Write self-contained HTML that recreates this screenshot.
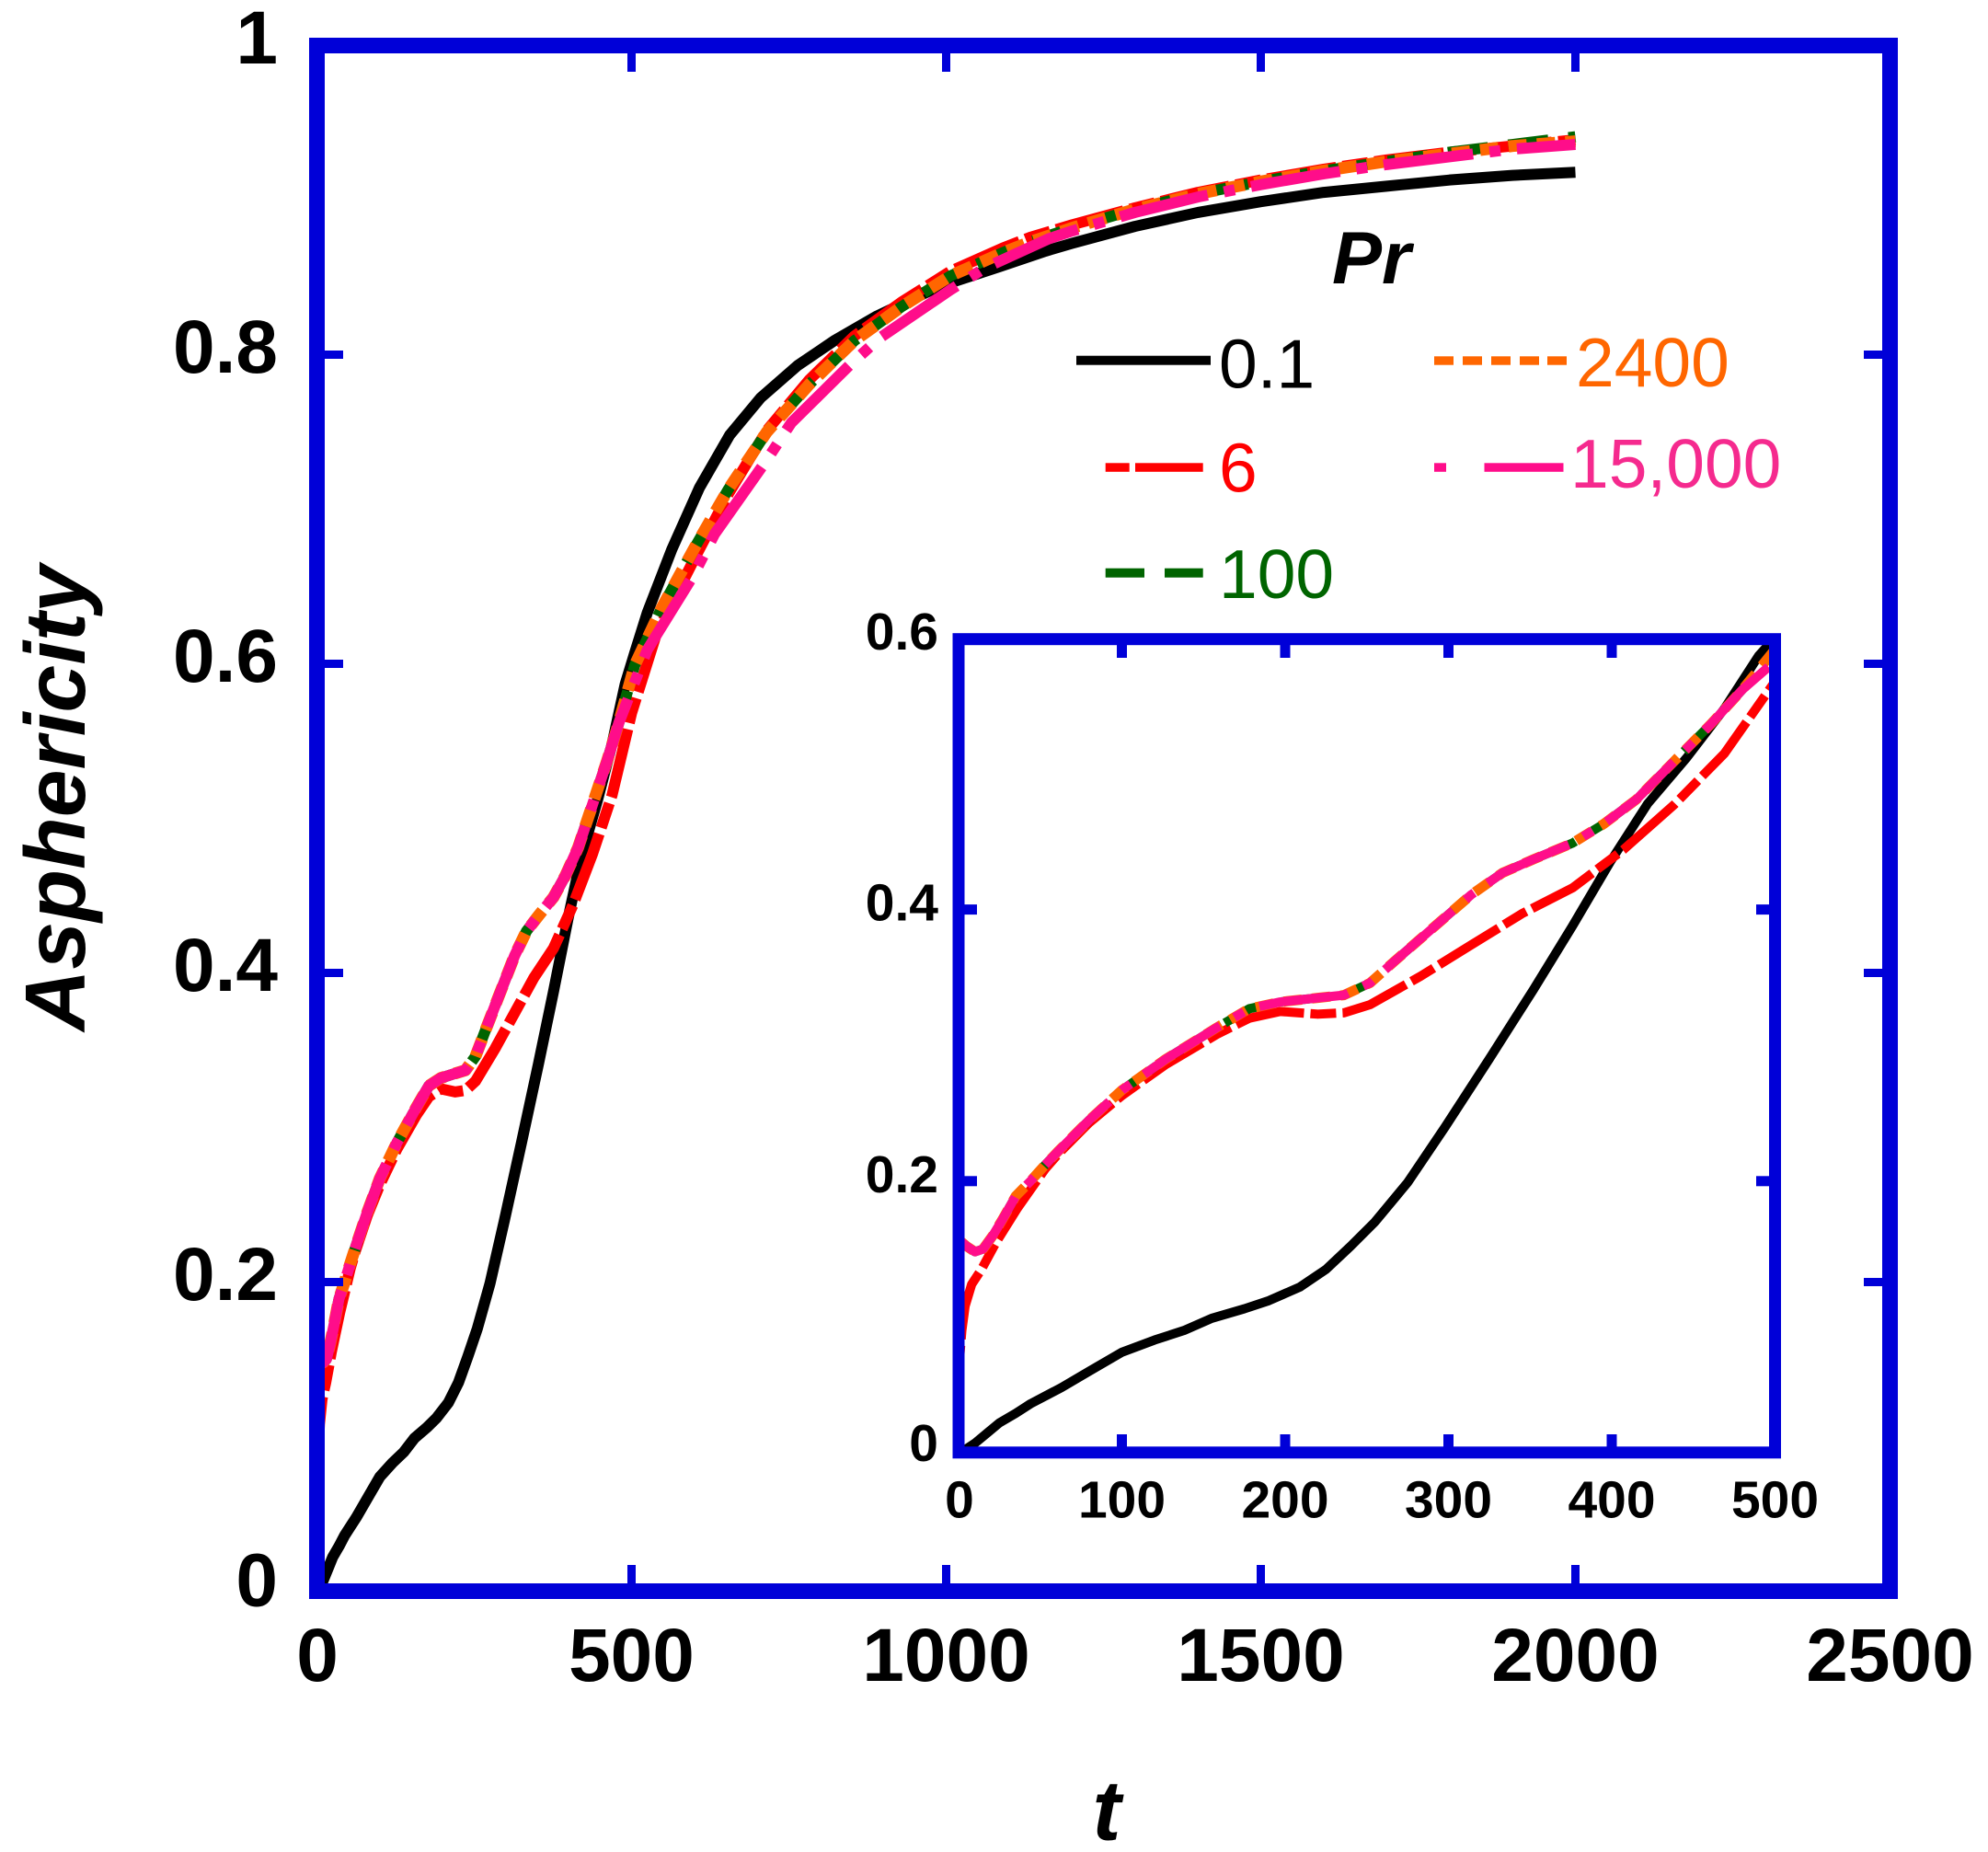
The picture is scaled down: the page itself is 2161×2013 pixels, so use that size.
<!DOCTYPE html>
<html><head><meta charset="utf-8"><style>
html,body{margin:0;padding:0;background:#fff;}
svg{display:block;}
text{font-family:"Liberation Sans",Arial,sans-serif;}
</style></head><body>
<svg width="2161" height="2013" viewBox="0 0 2161 2013" xmlns="http://www.w3.org/2000/svg">
<rect width="2161" height="2013" fill="#fff"/>
<defs>
<clipPath id="cm"><rect x="353" y="58" width="1693" height="1663"/></clipPath>
<clipPath id="ci"><rect x="1048" y="701" width="875" height="872"/></clipPath>
</defs>

<!-- MAIN CURVES -->
<g clip-path="url(#cm)">
<g transform="translate(344.5,1729.5) scale(0.684,-1.68)" fill="none" stroke-linejoin="round">
<polyline vector-effect="non-scaling-stroke" stroke="#000" stroke-width="12" points="0,0 5,3 10,7 18,15 25,22 35,29 44,36 63,48 80,60 100,74 120,83 138,90 155,99 175,106 190,112 209,122 225,135 240,152 255,170 275,199 298,240 325,290 352,341 376,388 399,435 422,478 446,512 469,548 490,587 505,607 525,633 564,674 608,714 656,748 705,772 764,793 822,809 890,825 988,844 1085,857 1158,867 1200,872 1300,883 1400,892 1500,899 1600,905 1700,909 1800,913 1900,916 2000,918"/>
<polyline vector-effect="non-scaling-stroke" stroke="#ff0000" stroke-width="12" stroke-dasharray="28 7 76 7" points="0,60 2,90 4,108 8,124 14,135 23,155 36,180 53,209 61,220 80,243 100,263 127,286 158,308 178,320 197,325 220,323 236,324 252,330 283,351 314,374 345,397 376,416 407,444 438,477 469,515 500,568 540,620 600,668 654,710 715,751 783,784 854,812 929,834 1007,854 1090,869 1134,876 1200,884 1300,895 1400,905 1500,913 1600,920 1700,926 1800,931 1900,935 2000,939"/>
<polyline vector-effect="non-scaling-stroke" stroke="#006400" stroke-width="12" stroke-dasharray="44 22" points="0,157 5,152 10,148 15,150 21,160 27,172 35,189 44,200 53,212 61,222 80,245 100,267 127,290 158,313 178,327 197,332 220,335 236,337 252,346 267,362 290,386 314,411 333,427 352,437 376,449 395,463 415,481 438,509 461,537 480,562 505,599 549,637 600,675 654,713 715,750 783,781 854,809 929,831 1007,851 1090,866 1134,873 1200,882 1300,894 1400,904 1500,912 1600,919 1700,925 1800,931 1900,936 2000,941"/>
<polyline vector-effect="non-scaling-stroke" stroke="#ff6600" stroke-width="13" stroke-dasharray="20 11" points="0,157 5,152 10,148 15,150 21,160 27,172 35,189 44,200 53,212 61,222 80,245 100,267 127,290 158,313 178,327 197,332 220,335 236,337 252,346 267,362 290,386 314,411 333,427 352,437 376,449 395,463 415,481 438,509 461,537 480,562 505,599 549,637 600,675 654,713 715,750 783,781 854,809 929,831 1007,851 1090,866 1134,873 1200,882 1300,894 1400,904 1500,912 1600,919 1700,925 1800,930 1900,935 2000,938"/>
<polyline vector-effect="non-scaling-stroke" stroke="#ff0d8a" stroke-width="12" stroke-dasharray="98 18 12 18" points="0,157 5,152 10,148 15,150 21,160 27,172 35,189 44,200 53,212 61,222 80,245 100,267 127,290 158,313 178,327 197,332 220,335 236,337 252,346 267,362 290,386 314,411 333,427 352,437 376,449 395,463 415,481 438,509 461,537 480,562 525,609 598,657 632,684 715,732 754,756 846,793 895,811 1007,842 1061,856 1163,875 1200,880 1300,892 1400,902 1500,910 1600,917 1700,923 1800,928 1900,933 2000,936"/>
</g>
</g>

<!-- MAIN FRAME -->
<rect x="344.5" y="49.5" width="1710" height="1680" fill="none" stroke="#0000d8" stroke-width="17"/>
<g stroke="#0000d8" stroke-width="9">
<line x1="352" y1="1393.5" x2="373" y2="1393.5"/><line x1="352" y1="1057.5" x2="373" y2="1057.5"/><line x1="352" y1="721.5" x2="373" y2="721.5"/><line x1="352" y1="385.5" x2="373" y2="385.5"/>
<line x1="2047" y1="1393.5" x2="2026" y2="1393.5"/><line x1="2047" y1="1057.5" x2="2026" y2="1057.5"/><line x1="2047" y1="721.5" x2="2026" y2="721.5"/><line x1="2047" y1="385.5" x2="2026" y2="385.5"/>
<line x1="686.5" y1="1722" x2="686.5" y2="1701"/><line x1="1028.5" y1="1722" x2="1028.5" y2="1701"/><line x1="1370.5" y1="1722" x2="1370.5" y2="1701"/><line x1="1712.5" y1="1722" x2="1712.5" y2="1701"/>
<line x1="686.5" y1="57" x2="686.5" y2="78"/><line x1="1028.5" y1="57" x2="1028.5" y2="78"/><line x1="1370.5" y1="57" x2="1370.5" y2="78"/><line x1="1712.5" y1="57" x2="1712.5" y2="78"/>
</g>

<!-- MAIN TICK LABELS -->
<g font-size="82" font-weight="bold" fill="#000" text-anchor="end">
<text x="302" y="69">1</text>
<text x="302" y="405">0.8</text>
<text x="302" y="741">0.6</text>
<text x="302" y="1077">0.4</text>
<text x="302" y="1413">0.2</text>
<text x="302" y="1745.5">0</text>
</g>
<g font-size="82" font-weight="bold" fill="#000" text-anchor="middle">
<text x="345" y="1827">0</text>
<text x="686.5" y="1827">500</text>
<text x="1028.5" y="1827">1000</text>
<text x="1370.5" y="1827">1500</text>
<text x="1712.5" y="1827">2000</text>
<text x="2054.5" y="1827">2500</text>
</g>

<!-- AXIS TITLES -->
<text transform="translate(92,867.5) rotate(-90)" text-anchor="middle" font-size="93" font-weight="bold" font-style="italic" fill="#000">Asphericity</text>
<text x="1203" y="2000" text-anchor="middle" font-size="93" font-weight="bold" font-style="italic" fill="#000">t</text>

<!-- LEGEND -->
<text x="1448" y="308" font-size="81" font-weight="bold" font-style="italic" fill="#000">Pr</text>
<rect x="1170" y="386.7" width="146" height="10" fill="#000"/>
<text x="1325" y="421.5" font-size="75" fill="#000">0.1</text>
<rect x="1201.7" y="503.3" width="26" height="9.5" fill="#ff0000"/>
<rect x="1234" y="503.3" width="73.7" height="9.5" fill="#ff0000"/>
<text x="1325" y="534.5" font-size="75" fill="#ff0000">6</text>
<rect x="1201.7" y="617.7" width="42.3" height="10" fill="#006400"/>
<rect x="1266" y="617.7" width="41.7" height="10" fill="#006400"/>
<text x="1325" y="650" font-size="75" fill="#006400">100</text>
<g fill="#ff6600">
<rect x="1559" y="387.3" width="21" height="9.4"/><rect x="1590" y="387.3" width="21" height="9.4"/><rect x="1621" y="387.3" width="21" height="9.4"/><rect x="1652" y="387.3" width="21" height="9.4"/><rect x="1682" y="387.3" width="21" height="9.4"/>
</g>
<text x="1713" y="420" font-size="75" fill="#ff6600">2400</text>
<rect x="1559" y="503.3" width="13" height="9.5" fill="#ff0d8a"/>
<rect x="1613.5" y="503.3" width="86" height="9.5" fill="#ff0d8a"/>
<text x="1707" y="530" font-size="75" fill="#f52a8e">15,000</text>

<!-- INSET -->
<g clip-path="url(#ci)">
<g transform="translate(1042,1579) scale(1.775,-1.4758)" fill="none" stroke-linejoin="round">
<polyline vector-effect="non-scaling-stroke" stroke="#000" stroke-width="10" points="0,0 5,3 10,7 18,15 25,22 35,29 44,36 63,48 80,60 100,74 120,83 138,90 155,99 175,106 190,112 209,122 225,135 240,152 255,170 275,199 298,240 325,290 352,341 376,388 399,435 422,478 446,512 469,548 490,587 505,607 525,633"/>
<polyline vector-effect="non-scaling-stroke" stroke="#ff0000" stroke-width="10" stroke-dasharray="28 7 76 7" points="0,60 2,90 4,108 8,124 14,135 23,155 36,180 53,209 61,220 80,243 100,263 127,286 158,308 178,320 197,325 220,323 236,324 252,330 283,351 314,374 345,397 376,416 407,444 438,477 469,515 500,568 540,620"/>
<polyline vector-effect="non-scaling-stroke" stroke="#006400" stroke-width="10" stroke-dasharray="44 22" points="0,157 5,152 10,148 15,150 21,160 27,172 35,189 44,200 53,212 61,222 80,245 100,267 127,290 158,313 178,327 197,332 220,335 236,337 252,346 267,362 290,386 314,411 333,427 352,437 376,449 395,463 415,481 438,509 461,537 480,562 505,599 549,637"/>
<polyline vector-effect="non-scaling-stroke" stroke="#ff6600" stroke-width="11" stroke-dasharray="20 11" points="0,157 5,152 10,148 15,150 21,160 27,172 35,189 44,200 53,212 61,222 80,245 100,267 127,290 158,313 178,327 197,332 220,335 236,337 252,346 267,362 290,386 314,411 333,427 352,437 376,449 395,463 415,481 438,509 461,537 480,562 505,599 549,637"/>
<polyline vector-effect="non-scaling-stroke" stroke="#ff0d8a" stroke-width="10" stroke-dasharray="98 18 12 18" points="0,157 5,152 10,148 15,150 21,160 27,172 35,189 44,200 53,212 61,222 80,245 100,267 127,290 158,313 178,327 197,332 220,335 236,337 252,346 267,362 290,386 314,411 333,427 352,437 376,449 395,463 415,481 438,509 461,537 480,562 525,609"/>
</g>
</g>
<rect x="1042" y="694.7" width="887.5" height="884.1" fill="none" stroke="#0000d8" stroke-width="13"/>
<g stroke="#0000d8" stroke-width="11">
<line x1="1048" y1="1283.8" x2="1062" y2="1283.8"/><line x1="1048" y1="988.6" x2="1062" y2="988.6"/>
<line x1="1923" y1="1283.8" x2="1909" y2="1283.8"/><line x1="1923" y1="988.6" x2="1909" y2="988.6"/>
<line x1="1219.5" y1="1573" x2="1219.5" y2="1559"/><line x1="1397" y1="1573" x2="1397" y2="1559"/><line x1="1574.5" y1="1573" x2="1574.5" y2="1559"/><line x1="1752" y1="1573" x2="1752" y2="1559"/>
<line x1="1219.5" y1="701" x2="1219.5" y2="715"/><line x1="1397" y1="701" x2="1397" y2="715"/><line x1="1574.5" y1="701" x2="1574.5" y2="715"/><line x1="1752" y1="701" x2="1752" y2="715"/>
</g>
<g font-size="57" font-weight="bold" fill="#000" text-anchor="end">
<text x="1020" y="706">0.6</text>
<text x="1020" y="1000.6">0.4</text>
<text x="1020" y="1296">0.2</text>
<text x="1020" y="1588">0</text>
</g>
<g font-size="57" font-weight="bold" fill="#000" text-anchor="middle">
<text x="1043" y="1649.5">0</text>
<text x="1219.5" y="1649.5">100</text>
<text x="1397" y="1649.5">200</text>
<text x="1574.5" y="1649.5">300</text>
<text x="1752" y="1649.5">400</text>
<text x="1929.5" y="1649.5">500</text>
</g>
</svg>
</body></html>
